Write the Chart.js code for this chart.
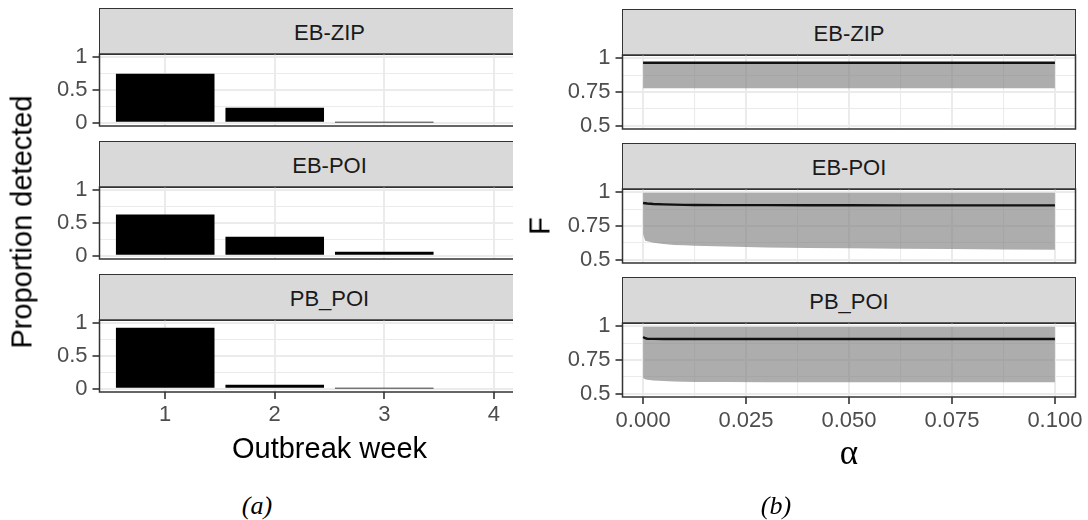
<!doctype html>
<html lang="en">
<head>
<meta charset="utf-8">
<title>Proportion detected and F by alpha</title>
<script src="https://cdn.jsdelivr.net/npm/chart.js@4.4.1/dist/chart.umd.min.js"></script>
<style>
  body { margin: 0; background: #fff; }
  #fig { position: relative; width: 1088px; height: 520px; overflow: hidden; font-family: 'Liberation Sans', Arial, sans-serif; }
  #leftClip { position: absolute; left: 0; top: 0; width: 513px; height: 520px; overflow: hidden; }
  canvas { position: absolute; }
  .strip { position: absolute; box-sizing: border-box; background: #D9D9D9; border: 1.5px solid #333; color: #1A1A1A;
           font-size: 22px; display: flex; align-items: center; justify-content: center; padding-top: 4px; }
  .lbl { position: absolute; white-space: nowrap; color: #000; line-height: 1; }
</style>
</head>
<body>
<div id="fig">
  <div id="leftClip"></div>
</div>

<script>
  // ---- data ----
  const facets = ['EB-ZIP', 'EB-POI', 'PB_POI'];

  // (a) proportion detected per outbreak week
  const weeks = [1, 2, 3, 4];
  const detectedEBZIP = [0.75, 0.23, 0.005, 0];
  const detectedEBPOI = [0.63, 0.29, 0.06, 0];
  const detectedPBPOI = [0.93, 0.06, 0.005, 0];

  // (b) F against alpha, mean line with a band
  const alpha = [0, 0.0005, 0.001, 0.0025, 0.005, 0.0075, 0.01, 0.0125, 0.02, 0.03, 0.04, 0.05, 0.0625, 0.075, 0.0875, 0.1];
  const fMeanEBZIP  = [0.967, 0.967, 0.967, 0.967, 0.967, 0.967, 0.967, 0.967, 0.967, 0.967, 0.967, 0.967, 0.967, 0.967, 0.967, 0.967];
  const fUpperEBZIP = [0.968, 0.968, 0.968, 0.968, 0.968, 0.968, 0.968, 0.968, 0.968, 0.968, 0.968, 0.968, 0.968, 0.968, 0.968, 0.968];
  const fLowerEBZIP = [0.778, 0.778, 0.778, 0.778, 0.778, 0.778, 0.778, 0.778, 0.778, 0.778, 0.778, 0.778, 0.778, 0.778, 0.778, 0.778];
  const fMeanEBPOI  = [0.921, 0.919, 0.917, 0.914, 0.911, 0.909, 0.907, 0.906, 0.905, 0.905, 0.904, 0.904, 0.903, 0.903, 0.903, 0.903];
  const fUpperEBPOI = [0.997, 0.997, 0.997, 0.997, 0.997, 0.997, 0.997, 0.997, 0.997, 0.997, 0.997, 0.997, 0.997, 0.997, 0.997, 0.997];
  const fLowerEBPOI = [0.691, 0.641, 0.636, 0.626, 0.616, 0.609, 0.606, 0.604, 0.598, 0.590, 0.587, 0.585, 0.581, 0.579, 0.575, 0.573];
  const fMeanPBPOI  = [0.921, 0.912, 0.908, 0.907, 0.906, 0.906, 0.906, 0.906, 0.906, 0.906, 0.906, 0.906, 0.906, 0.906, 0.906, 0.906];
  const fUpperPBPOI = [0.997, 0.997, 0.997, 0.997, 0.997, 0.997, 0.997, 0.997, 0.997, 0.997, 0.997, 0.997, 0.997, 0.997, 0.997, 0.997];
  const fLowerPBPOI = [0.617, 0.606, 0.603, 0.598, 0.593, 0.590, 0.588, 0.587, 0.586, 0.585, 0.585, 0.585, 0.585, 0.584, 0.584, 0.584];

  // ticks
  const xTicksA = [1, 2, 3, 4];
  const xLabelsA = ['1', '2', '3', '4'];
  const yMajorA = [0, 0.5, 1];
  const yMinorA = [0.25, 0.75];
  const yLabelsA = ['0', '0.5', '1'];
  const xMajorB = [0, 0.025, 0.05, 0.075, 0.1];
  const xMinorB = [0.0125, 0.0375, 0.0625, 0.0875];
  const xLabelsB = ['0.000', '0.025', '0.050', '0.075', '0.100'];
  const yMajorB = [0.5, 0.75, 1];
  const yMinorB = [0.625, 0.875];
  const yLabelsB = ['0.5', '0.75', '1'];

  const barsA = [detectedEBZIP, detectedEBPOI, detectedPBPOI];
  const bandsB = [
    [fLowerEBZIP, fUpperEBZIP, fMeanEBZIP],
    [fLowerEBPOI, fUpperEBPOI, fMeanEBPOI],
    [fLowerPBPOI, fUpperPBPOI, fMeanPBPOI]
  ];

  // ---- layout ----
  Chart.defaults.font.family = "'Liberation Sans', Arial, sans-serif";
  Chart.defaults.font.size = 22;
  Chart.defaults.color = '#4D4D4D';

  const fig = document.getElementById('fig');
  const leftClip = document.getElementById('leftClip');
  const PAD = 24;

  const panelBorder = {
    id: 'panelBorder',
    afterDraw(chart) {
      const a = chart.chartArea, c = chart.ctx;
      c.save();
      c.strokeStyle = '#333';
      c.lineWidth = 1.5;
      c.strokeRect(a.left, a.top, a.right - a.left, a.bottom - a.top);
      c.restore();
    }
  };

  function gridOpts(majors, withTicks) {
    const isMajor = ctx => ctx.tick && majors.includes(ctx.tick.value);
    return {
      offset: false,
      color: '#EBEBEB',
      lineWidth: ctx => isMajor(ctx) ? 2 : 1.1,
      drawTicks: withTicks,
      tickLength: 7,
      tickWidth: 1.6,
      tickColor: ctx => isMajor(ctx) ? '#333' : 'rgba(0,0,0,0)'
    };
  }

  function labelFrom(majors, labels) {
    return v => { const i = majors.indexOf(v); return i < 0 ? '' : labels[i]; };
  }

  function makeCanvas(parent, left, top, w, h) {
    const cv = document.createElement('canvas');
    cv.width = w; cv.height = h;
    cv.style.left = left + 'px'; cv.style.top = top + 'px';
    cv.style.width = w + 'px'; cv.style.height = h + 'px';
    parent.appendChild(cv);
    return cv.getContext('2d');
  }

  function addStrip(parent, text, left, top, width) {
    const d = document.createElement('div');
    d.className = 'strip';
    d.textContent = text;
    d.style.left = left + 'px'; d.style.top = top + 'px';
    d.style.width = width + 'px'; d.style.height = '46.75px';
    parent.appendChild(d);
  }

  function addLabel(text, cx, cy, css, rotate) {
    const d = document.createElement('div');
    d.className = 'lbl';
    d.textContent = text;
    Object.assign(d.style, css);
    d.style.left = cx + 'px'; d.style.top = cy + 'px';
    d.style.transform = 'translate(-50%,-50%)' + (rotate ? ' rotate(-90deg)' : '');
    fig.appendChild(d);
  }

  // (a) panels
  const aTops = [54, 187, 320], aH = 72, aLeft = 99.5, aRight = 559.5, aW = 600;
  facets.forEach((name, k) => {
    const bottom = k === facets.length - 1;
    const xH = bottom ? 50 : 0;
    addStrip(leftClip, name, aLeft - 0.75, aTops[k] - 46, aRight - aLeft + 1.5);
    const ctx = makeCanvas(leftClip, 0, aTops[k] - PAD, aW, PAD + aH + xH + PAD);
    new Chart(ctx, {
      type: 'bar',
      data: {
        datasets: [{
          data: weeks.map((w, i) => ({ x: w, y: barsA[k][i] })),
          backgroundColor: '#000',
          borderWidth: 0,
          barPercentage: 0.9,
          categoryPercentage: 1
        }]
      },
      options: {
        responsive: false,
        animation: false,
        layout: { padding: { top: PAD, left: 0, right: aW - aRight, bottom: PAD } },
        plugins: { legend: { display: false }, tooltip: { enabled: false } },
        scales: {
          x: {
            type: 'linear', min: 0.4, max: 4.6, offset: false,
            afterBuildTicks: s => { s.ticks = xTicksA.map(v => ({ value: v })); },
            afterFit: s => { s.height = xH; },
            grid: gridOpts(xTicksA, bottom),
            border: { display: false },
            ticks: { display: bottom, padding: 3, maxRotation: 0, autoSkip: false, callback: labelFrom(xTicksA, xLabelsA) }
          },
          y: {
            min: -0.05, max: 1.05,
            afterBuildTicks: s => { s.ticks = yMajorA.concat(yMinorA).sort((p, q) => p - q).map(v => ({ value: v })); },
            afterFit: s => { s.width = aLeft; },
            grid: gridOpts(yMajorA, true),
            border: { display: false },
            ticks: { padding: 5, autoSkip: false, callback: labelFrom(yMajorA, yLabelsA) }
          }
        }
      },
      plugins: [panelBorder]
    });
  });

  // (b) panels
  const bTops = [55, 189, 323], bH = 74, bCanvasLeft = 500, bLeft = 622.5, bRight = 1075.5, bW = 588;
  facets.forEach((name, k) => {
    const bottom = k === facets.length - 1;
    const xH = bottom ? 50 : 0;
    addStrip(fig, name, bLeft - 0.75, bTops[k] - 46, bRight - bLeft + 1.5);
    const ctx = makeCanvas(fig, bCanvasLeft, bTops[k] - PAD, bW, PAD + bH + xH + PAD);
    const [lo, up, mean] = bandsB[k];
    const pts = arr => alpha.map((a, i) => ({ x: a, y: arr[i] }));
    new Chart(ctx, {
      type: 'line',
      data: {
        datasets: [
          { data: pts(mean), borderColor: '#111', borderWidth: 2.4, pointRadius: 0, fill: false },
          { data: pts(lo), borderWidth: 0, borderColor: 'rgba(0,0,0,0)', pointRadius: 0, fill: false },
          { data: pts(up), borderWidth: 0, borderColor: 'rgba(0,0,0,0)', pointRadius: 0, fill: 1,
            backgroundColor: 'rgba(127,127,127,0.64)' }
        ]
      },
      options: {
        responsive: false,
        animation: false,
        layout: { padding: { top: PAD, left: 0, right: bCanvasLeft + bW - bRight, bottom: PAD } },
        plugins: { legend: { display: false }, tooltip: { enabled: false } },
        scales: {
          x: {
            type: 'linear', min: -0.005, max: 0.105,
            afterBuildTicks: s => { s.ticks = xMajorB.concat(xMinorB).sort((p, q) => p - q).map(v => ({ value: v })); },
            afterFit: s => { s.height = xH; },
            grid: gridOpts(xMajorB, bottom),
            border: { display: false },
            ticks: { display: bottom, padding: 4, maxRotation: 0, autoSkip: false, callback: labelFrom(xMajorB, xLabelsB) }
          },
          y: {
            min: 0.475, max: 1.025,
            afterBuildTicks: s => { s.ticks = yMajorB.concat(yMinorB).sort((p, q) => p - q).map(v => ({ value: v })); },
            afterFit: s => { s.width = bLeft - bCanvasLeft; },
            grid: gridOpts(yMajorB, true),
            border: { display: false },
            ticks: { padding: 5, autoSkip: false, callback: labelFrom(yMajorB, yLabelsB) }
          }
        }
      },
      plugins: [panelBorder]
    });
  });

  // axis titles and captions
  addLabel('Proportion detected', 21.5, 222, { fontSize: '29px' }, true);
  addLabel('Outbreak week', 329.5, 448, { fontSize: '29px' });
  addLabel('F', 540, 226, { fontSize: '29px' }, true);
  addLabel('α', 849, 452, { fontSize: '35px', fontFamily: "'Liberation Serif', serif" });
  addLabel('(a)', 257, 506, { fontSize: '26px', fontFamily: "'Liberation Serif', serif", fontStyle: 'italic' });
  addLabel('(b)', 776, 506, { fontSize: '26px', fontFamily: "'Liberation Serif', serif", fontStyle: 'italic' });
</script>
</body>
</html>
